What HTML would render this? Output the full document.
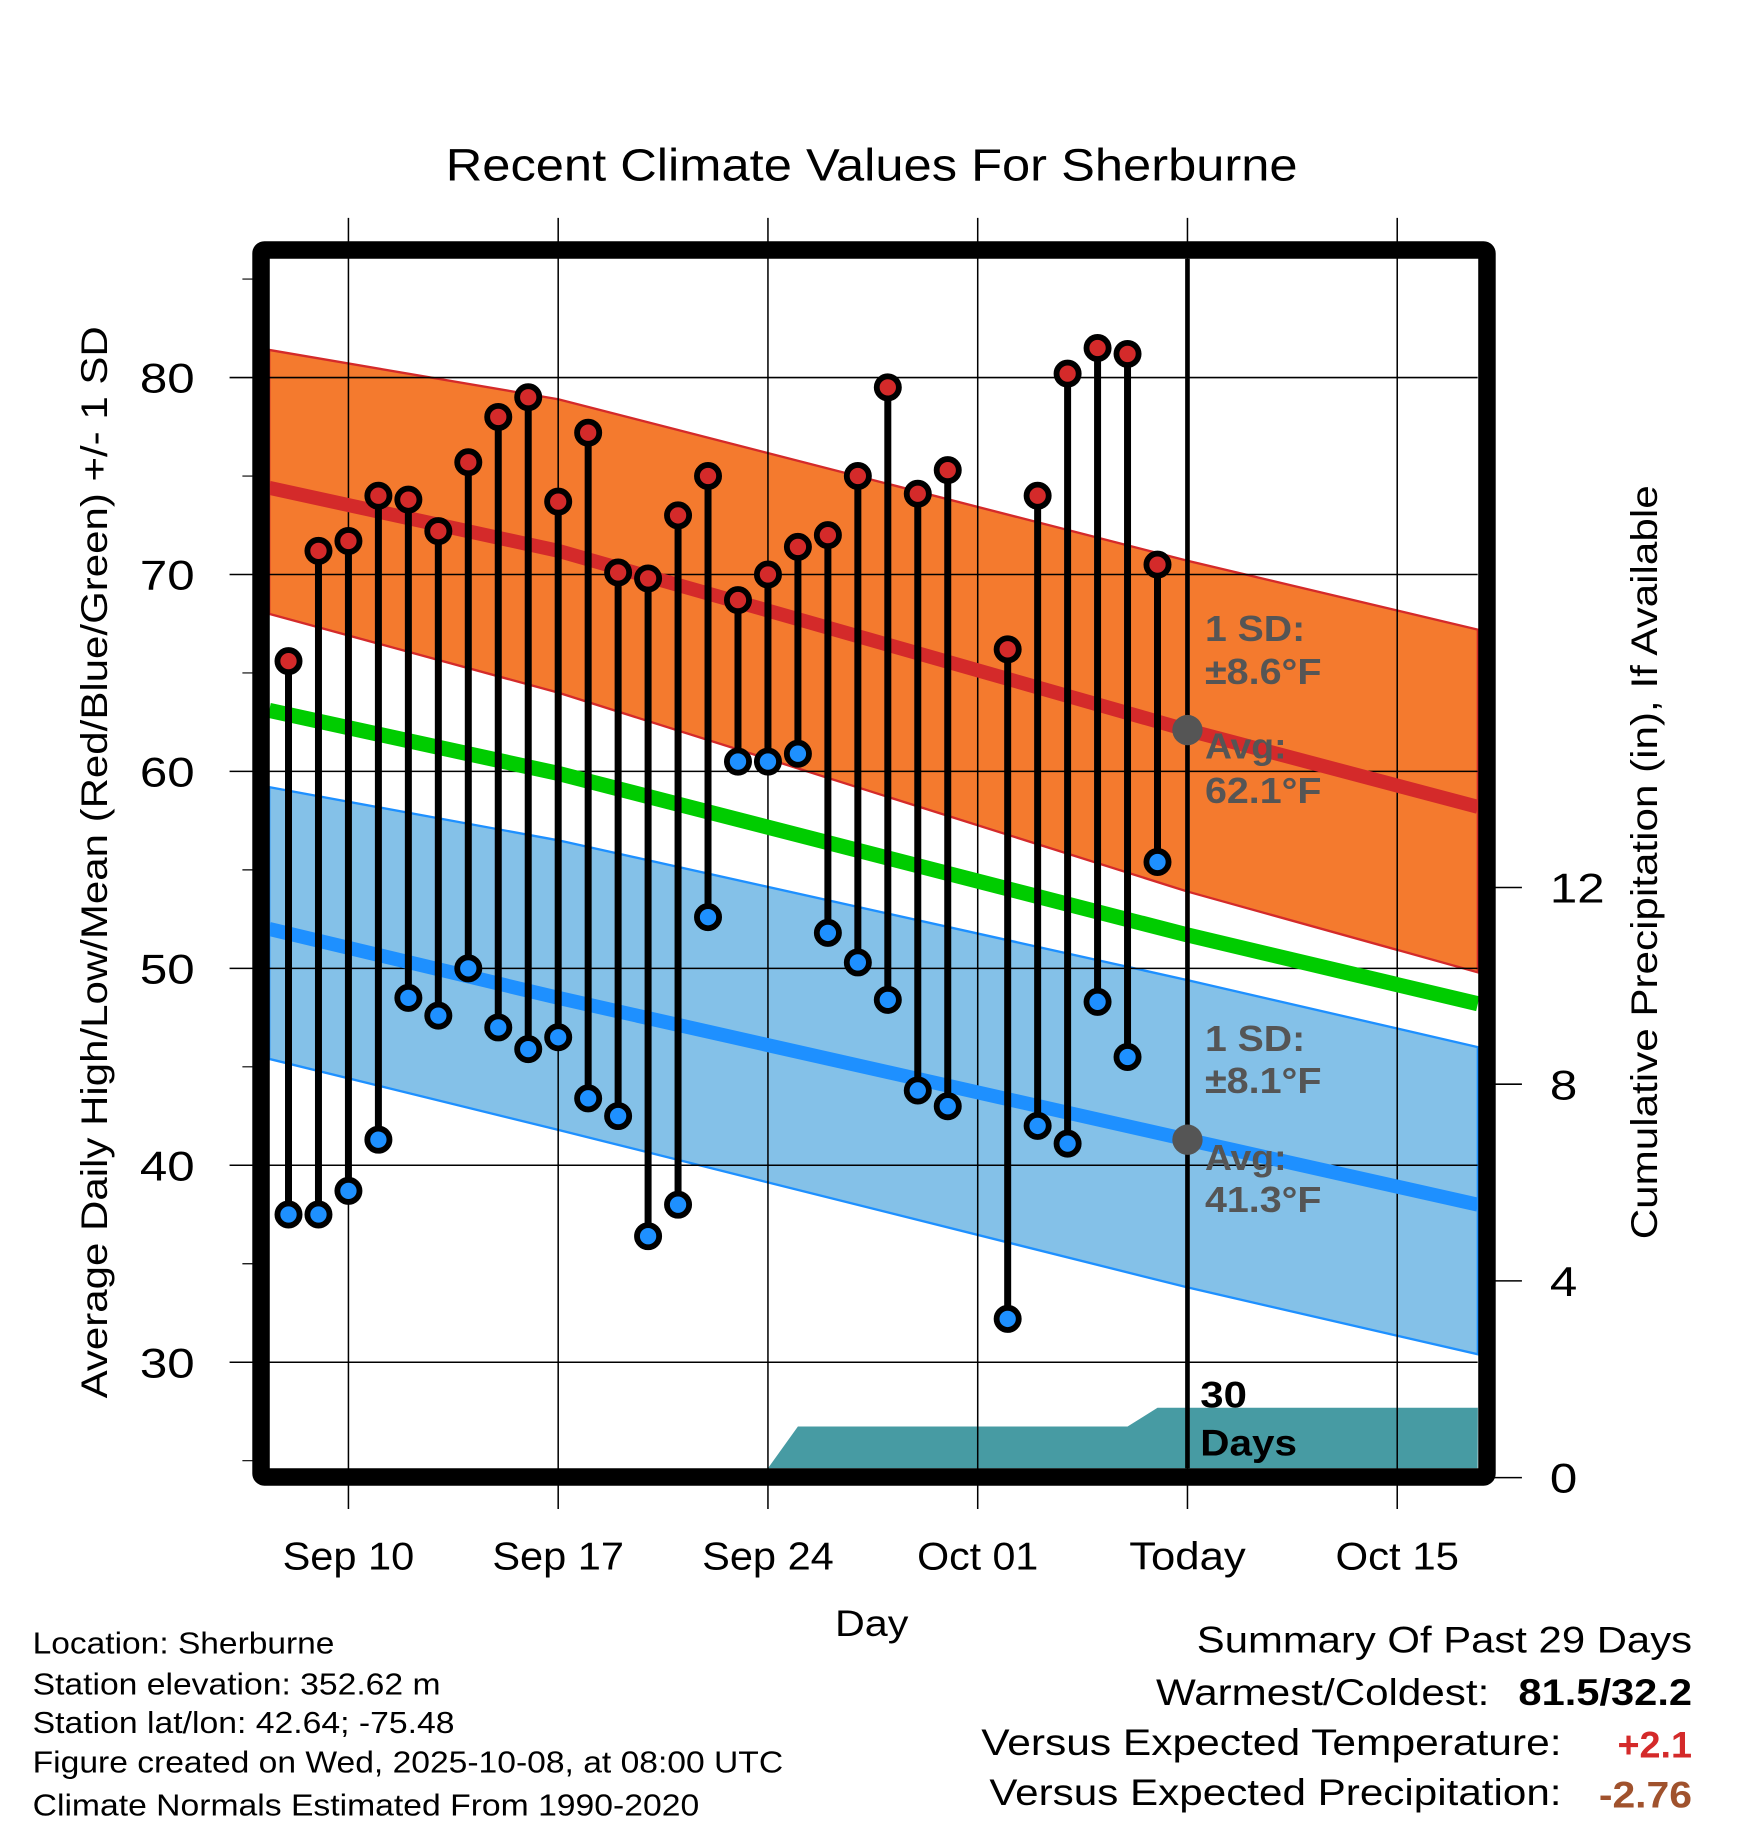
<!DOCTYPE html>
<html><head><meta charset="utf-8"><style>
html,body{margin:0;padding:0;background:#fff}
svg{display:block}
text{font-family:"Liberation Sans",sans-serif}
</style></head><body>
<svg id="chart" width="1748" height="1828" viewBox="0 0 1500 1568.7" preserveAspectRatio="none" xmlns="http://www.w3.org/2000/svg">
<text x="748" y="155" font-size="39" text-anchor="middle" textLength="731" lengthAdjust="spacingAndGlyphs">Recent Climate Values For Sherburne</text>
<text transform="translate(92,740) rotate(-90)" font-size="32" text-anchor="middle" textLength="920" lengthAdjust="spacingAndGlyphs">Average Daily High/Low/Mean (Red/Blue/Green) +/- 1 SD</text>
<text transform="translate(1422,740) rotate(-90)" font-size="32" text-anchor="middle" textLength="647" lengthAdjust="spacingAndGlyphs">Cumulative Precipitation (in), If Available</text>
<text x="748" y="1404" font-size="32" text-anchor="middle" textLength="63" lengthAdjust="spacingAndGlyphs">Day</text>
<g id="plot"></g>
<g font-size="26.5">
<text x="28" y="1419" textLength="259" lengthAdjust="spacingAndGlyphs">Location: Sherburne</text>
<text x="28" y="1454" textLength="350" lengthAdjust="spacingAndGlyphs">Station elevation: 352.62 m</text>
<text x="28" y="1487" textLength="362" lengthAdjust="spacingAndGlyphs">Station lat/lon: 42.64; -75.48</text>
<text x="28" y="1521" textLength="644" lengthAdjust="spacingAndGlyphs">Figure created on Wed, 2025-10-08, at 08:00 UTC</text>
<text x="28" y="1558" textLength="572" lengthAdjust="spacingAndGlyphs">Climate Normals Estimated From 1990-2020</text>
</g>
<g font-size="32">
<text x="1027" y="1418" textLength="425" lengthAdjust="spacingAndGlyphs">Summary Of Past 29 Days</text>
<text x="992" y="1463" textLength="286" lengthAdjust="spacingAndGlyphs">Warmest/Coldest:</text>
<text x="1303" y="1463" font-weight="bold" textLength="149" lengthAdjust="spacingAndGlyphs">81.5/32.2</text>
<text x="842" y="1506" textLength="498" lengthAdjust="spacingAndGlyphs">Versus Expected Temperature:</text>
<text x="1388" y="1508" font-weight="bold" fill="#d42a2a" textLength="64" lengthAdjust="spacingAndGlyphs">+2.1</text>
<text x="849" y="1549" textLength="491" lengthAdjust="spacingAndGlyphs">Versus Expected Precipitation:</text>
<text x="1372" y="1551" font-weight="bold" fill="#a0522d" textLength="80" lengthAdjust="spacingAndGlyphs">-2.76</text>
</g>
</svg>
<script>
// ---- data ----
const dayOffsets = [-2,-1,0,1,2,3,4,5,6,7,8,9,10,11,12,13,14,15,16,17,18,19,20,22,23,24,25,26,27]; // days from Sep 10
const highs = [65.6,71.2,71.7,74.0,73.8,72.2,75.7,78.0,79.0,73.7,77.2,70.1,69.8,73.0,75.0,68.7,70.0,71.4,72.0,75.0,79.5,74.1,75.3,66.2,74.0,80.2,81.5,81.2,70.5];
const lows  = [37.5,37.5,38.7,41.3,48.5,47.6,50.0,47.0,45.9,46.5,43.4,42.5,36.4,38.0,52.6,60.5,60.5,60.9,51.8,50.3,48.4,43.8,43.0,32.2,42.0,41.1,48.3,45.5,55.4];
const normDays = [-2.645, 7, 28, 37.69];
const normHighAvg = [74.4, 71.2, 62.1, 58.2];
const normHighUp  = [81.4, 78.9, 70.7, 67.2];
const normHighLo  = [68.0, 64.0, 53.9, 49.8];
const normLowAvg  = [52.0, 48.5, 41.3, 38.0];
const normLowUp   = [59.2, 56.5, 49.4, 46.0];
const normLowLo   = [45.4, 41.8, 33.8, 30.4];
const normMean    = [63.1, 59.9, 51.7, 48.2];
const precipDays = [-2.645, 14, 15, 26, 27, 37.69];
const precipVals = [0, 0, 1.04, 1.04, 1.42, 1.42];
const xTickDays = [0, 7, 14, 21, 28, 35];
const xTickLabels = ['Sep 10','Sep 17','Sep 24','Oct 01','Today','Oct 15'];
const xTickWidths = [113,113,113,104,100,106];
const yTicks = [30,40,50,60,70,80];
const yMinor = [25,35,45,55,65,75,85];
const y2Ticks = [0,4,8,12];

// ---- axes ----
const X0=231, X1=1268, Y0=222, Y1=1260;
const xs = d => 299 + d*25.714;
const ys = v => 324 + (80-v)*16.9;
const yp = p => 1268 - p*42.2;
const NS='http://www.w3.org/2000/svg';
const plot=document.getElementById('plot');
function mk(tag, attrs, parent){const e=document.createElementNS(NS,tag);for(const k in attrs)e.setAttribute(k,attrs[k]);(parent||plot).appendChild(e);return e;}
function pts(days, vals){return days.map((d,i)=>xs(d).toFixed(1)+','+ys(vals[i]).toFixed(1));}

let e;
e=mk('polygon',{points:pts(normDays,normHighUp).concat(pts(normDays,normHighLo).reverse()).join(' '),fill:'#f47a2e',stroke:'#d42a2a','stroke-width':2});


e=mk('polygon',{points:pts(normDays,normLowUp).concat(pts(normDays,normLowLo).reverse()).join(' '),fill:'#84c1e8',stroke:'#1e90ff','stroke-width':2});



const pp=precipDays.map((d,i)=>xs(d).toFixed(1)+','+Math.min(yp(precipVals[i]),Y1).toFixed(1));
e=mk('polygon',{points:pp.join(' ')+' '+X1+','+Y1+' '+X0+','+Y1,fill:'#479ba3'});



yTicks.forEach(v=>{
 e=mk('line',{x1:X0,x2:X1,y1:ys(v),y2:ys(v),stroke:'#000','stroke-width':1.3});
 
 
 e=mk('line',{x1:197,x2:224,y1:ys(v),y2:ys(v),stroke:'#000','stroke-width':1.3});
 
 
 e=mk('text',{x:167,y:ys(v)+13,'font-size':36,'text-anchor':'end',textLength:47,lengthAdjust:'spacingAndGlyphs'});
 e.textContent=v;
 
 
});
yMinor.forEach(v=>{
 e=mk('line',{x1:208,x2:224,y1:ys(v),y2:ys(v),stroke:'#000','stroke-width':1});
 
 
});
y2Ticks.forEach(v=>{
 e=mk('line',{x1:1276,x2:1306,y1:yp(v),y2:yp(v),stroke:'#000','stroke-width':1.3});
 
 
 e=mk('text',{x:1330,y:yp(v)+13,'font-size':36,textLength:String(v).length*23.5,lengthAdjust:'spacingAndGlyphs'});
 e.textContent=v;
 
 
});
xTickDays.forEach((d,i)=>{
 e=mk('line',{x1:xs(d),x2:xs(d),y1:187,y2:1295,stroke:'#000','stroke-width':1.3});
 
 
 e=mk('text',{x:xs(d),y:1347,'font-size':33,'text-anchor':'middle',textLength:xTickWidths[i],lengthAdjust:'spacingAndGlyphs'});
 e.textContent=xTickLabels[i];
 
 
});

[[normMean,'#00cc00',13,'mean-normal-line'],[normHighAvg,'#d42a2a',12,'high-normal-line'],[normLowAvg,'#1e90ff',12,'low-normal-line']].forEach(s=>{
 e=mk('polyline',{points:pts(normDays,s[0]).join(' '),fill:'none',stroke:s[1],'stroke-width':s[2]});
 
 
});

e=mk('line',{x1:xs(28),x2:xs(28),y1:Y0,y2:Y1,stroke:'#000','stroke-width':4});



const todayIdx=2;
[[normHighAvg[todayIdx],'high'],[normLowAvg[todayIdx],'low']].forEach(a=>{
 e=mk('circle',{cx:xs(28),cy:ys(a[0]),r:13,fill:'#555'});
 
 
});
[['1 SD:',550,'high',86],['±8.6°F',587,'high',100],['Avg:',651,'high',70],['62.1°F',689,'high',100],['1 SD:',902,'low',86],['±8.1°F',938,'low',100],['Avg:',1004,'low',70],['41.3°F',1040,'low',100]].forEach(t=>{
 e=mk('text',{x:1034,y:t[1],'font-size':31,'font-weight':'bold',fill:'#555',textLength:t[3],lengthAdjust:'spacingAndGlyphs'});
 e.textContent=t[0];
 
 
});
[['30',1208,40],['Days',1249,83]].forEach(t=>{
 e=mk('text',{x:1030,y:t[1],'font-size':32,'font-weight':'bold',fill:'#000',textLength:t[2],lengthAdjust:'spacingAndGlyphs'});
 e.textContent=t[0];
 
 
});

dayOffsets.forEach((d,i)=>{
 e=mk('line',{x1:xs(d),x2:xs(d),y1:ys(highs[i]),y2:ys(lows[i]),stroke:'#000','stroke-width':6});
 
 
});
dayOffsets.forEach((d,i)=>{
 e=mk('circle',{cx:xs(d),cy:ys(highs[i]),r:9.5,fill:'#d42a2a',stroke:'#000','stroke-width':5});
 
 
 e=mk('circle',{cx:xs(d),cy:ys(lows[i]),r:9.5,fill:'#1e90ff',stroke:'#000','stroke-width':5});
 
 
});

e=mk('rect',{x:224,y:214.5,width:1052,height:1053,fill:'none',stroke:'#000','stroke-width':15,rx:3});


</script>
</body></html>
